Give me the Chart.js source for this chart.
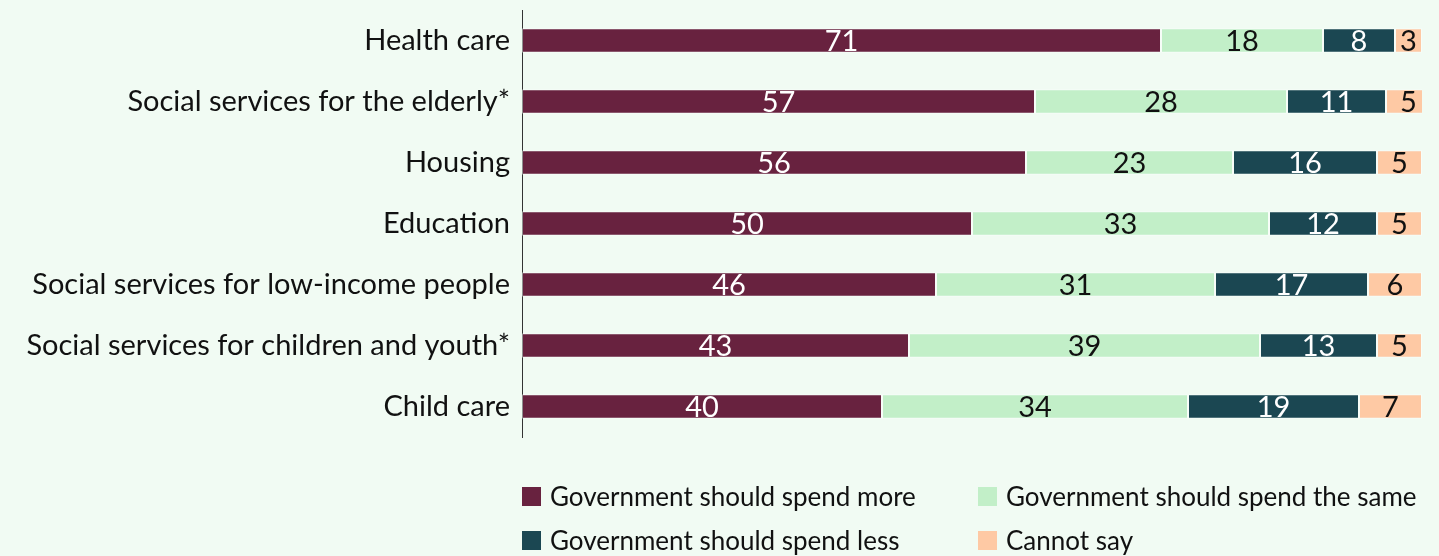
<!DOCTYPE html>
<html>
<head>
<meta charset="utf-8">
<script src="https://cdn.jsdelivr.net/npm/chart.js@4/dist/chart.umd.min.js"></script>
<style>
  html, body { margin: 0; padding: 0; background: #f1fbf3; }
  #wrap { position: relative; width: 1439px; height: 556px; }
</style>
</head>
<body>
<div id="wrap"><canvas id="spendChart"></canvas></div>
<script>
// 数据
const categories = [
    'Health care',
    'Social services for the elderly*',
    'Housing',
    'Education',
    'Social services for low-income people',
    'Social services for children and youth*',
    'Child care'
];
const spendMore = [71, 57, 56, 50, 46, 43, 40];
const spendSame = [18, 28, 23, 33, 31, 39, 34];
const spendLess = [8, 11, 16, 12, 17, 13, 19];
const cannotSay = [3, 5, 5, 5, 6, 5, 7];

const seriesNames = [
    'Government should spend more',
    'Government should spend the same',
    'Government should spend less',
    'Cannot say'
];
const seriesColors = ['#68223f', '#c2efc8', '#1b4752', '#fec9a4'];
const labelColors = ['#ffffff', '#111111', '#ffffff', '#111111'];

const FONT = 'Lato, "Open Sans", sans-serif';

// 柱内数值
const valueLabels = {
    id: 'valueLabels',
    afterDatasetsDraw(chart) {
        const ctx = chart.ctx;
        ctx.save();
        ctx.font = '29px ' + FONT;
        ctx.textAlign = 'center';
        ctx.textBaseline = 'middle';
        chart.data.datasets.forEach((ds, i) => {
            chart.getDatasetMeta(i).data.forEach((bar, j) => {
                const x = (bar.x + bar.base) / 2;
                ctx.fillStyle = labelColors[i];
                ctx.fillText(ds.data[j], x, bar.y + 1);
            });
        });
        ctx.restore();
    }
};

// 底部两列图例
const gridLegend = {
    id: 'gridLegend',
    afterDraw(chart) {
        const ctx = chart.ctx;
        const left = chart.chartArea.left;
        const colX = [left, left + 456];
        const rowY = [497, 541];
        ctx.save();
        ctx.font = '26px ' + FONT;
        ctx.textBaseline = 'middle';
        ctx.textAlign = 'left';
        chart.data.datasets.forEach((ds, i) => {
            const x = colX[i % 2];
            const y = rowY[Math.floor(i / 2)];
            ctx.fillStyle = ds.backgroundColor;
            ctx.fillRect(x, y - 10, 19, 19);
            ctx.fillStyle = '#111111';
            ctx.fillText(ds.label, x + 28, y + 1);
        });
        ctx.restore();
    }
};

const seriesData = [spendMore, spendSame, spendLess, cannotSay];

new Chart(document.getElementById('spendChart'), {
    type: 'bar',
    data: {
        labels: categories,
        datasets: seriesData.map((d, i) => ({
            label: seriesNames[i],
            data: d,
            backgroundColor: seriesColors[i],
            borderColor: 'rgba(255,255,255,0.45)',
            borderWidth: 1,
            borderSkipped: false,
            barPercentage: 0.4,
            categoryPercentage: 1
        }))
    },
    options: {
        indexAxis: 'y',
        responsive: true,
        maintainAspectRatio: false,
        animation: false,
        layout: {
            padding: { left: 0, right: 17, top: 10, bottom: 119 }
        },
        scales: {
            x: {
                stacked: true,
                display: false,
                min: 0,
                max: 100
            },
            y: {
                stacked: true,
                grid: { display: false, drawTicks: false },
                border: { display: true, color: '#333333', width: 1 },
                ticks: {
                    color: '#111111',
                    padding: 12,
                    font: { family: FONT, size: 29 }
                },
                afterFit(scale) {
                    scale.width = 522;
                    scale.paddingTop = 0;
                    scale.paddingBottom = 0;
                }
            }
        },
        plugins: {
            legend: { display: false },
            tooltip: { enabled: false }
        }
    },
    plugins: [valueLabels, gridLegend]
});
</script>
</body>
</html>
